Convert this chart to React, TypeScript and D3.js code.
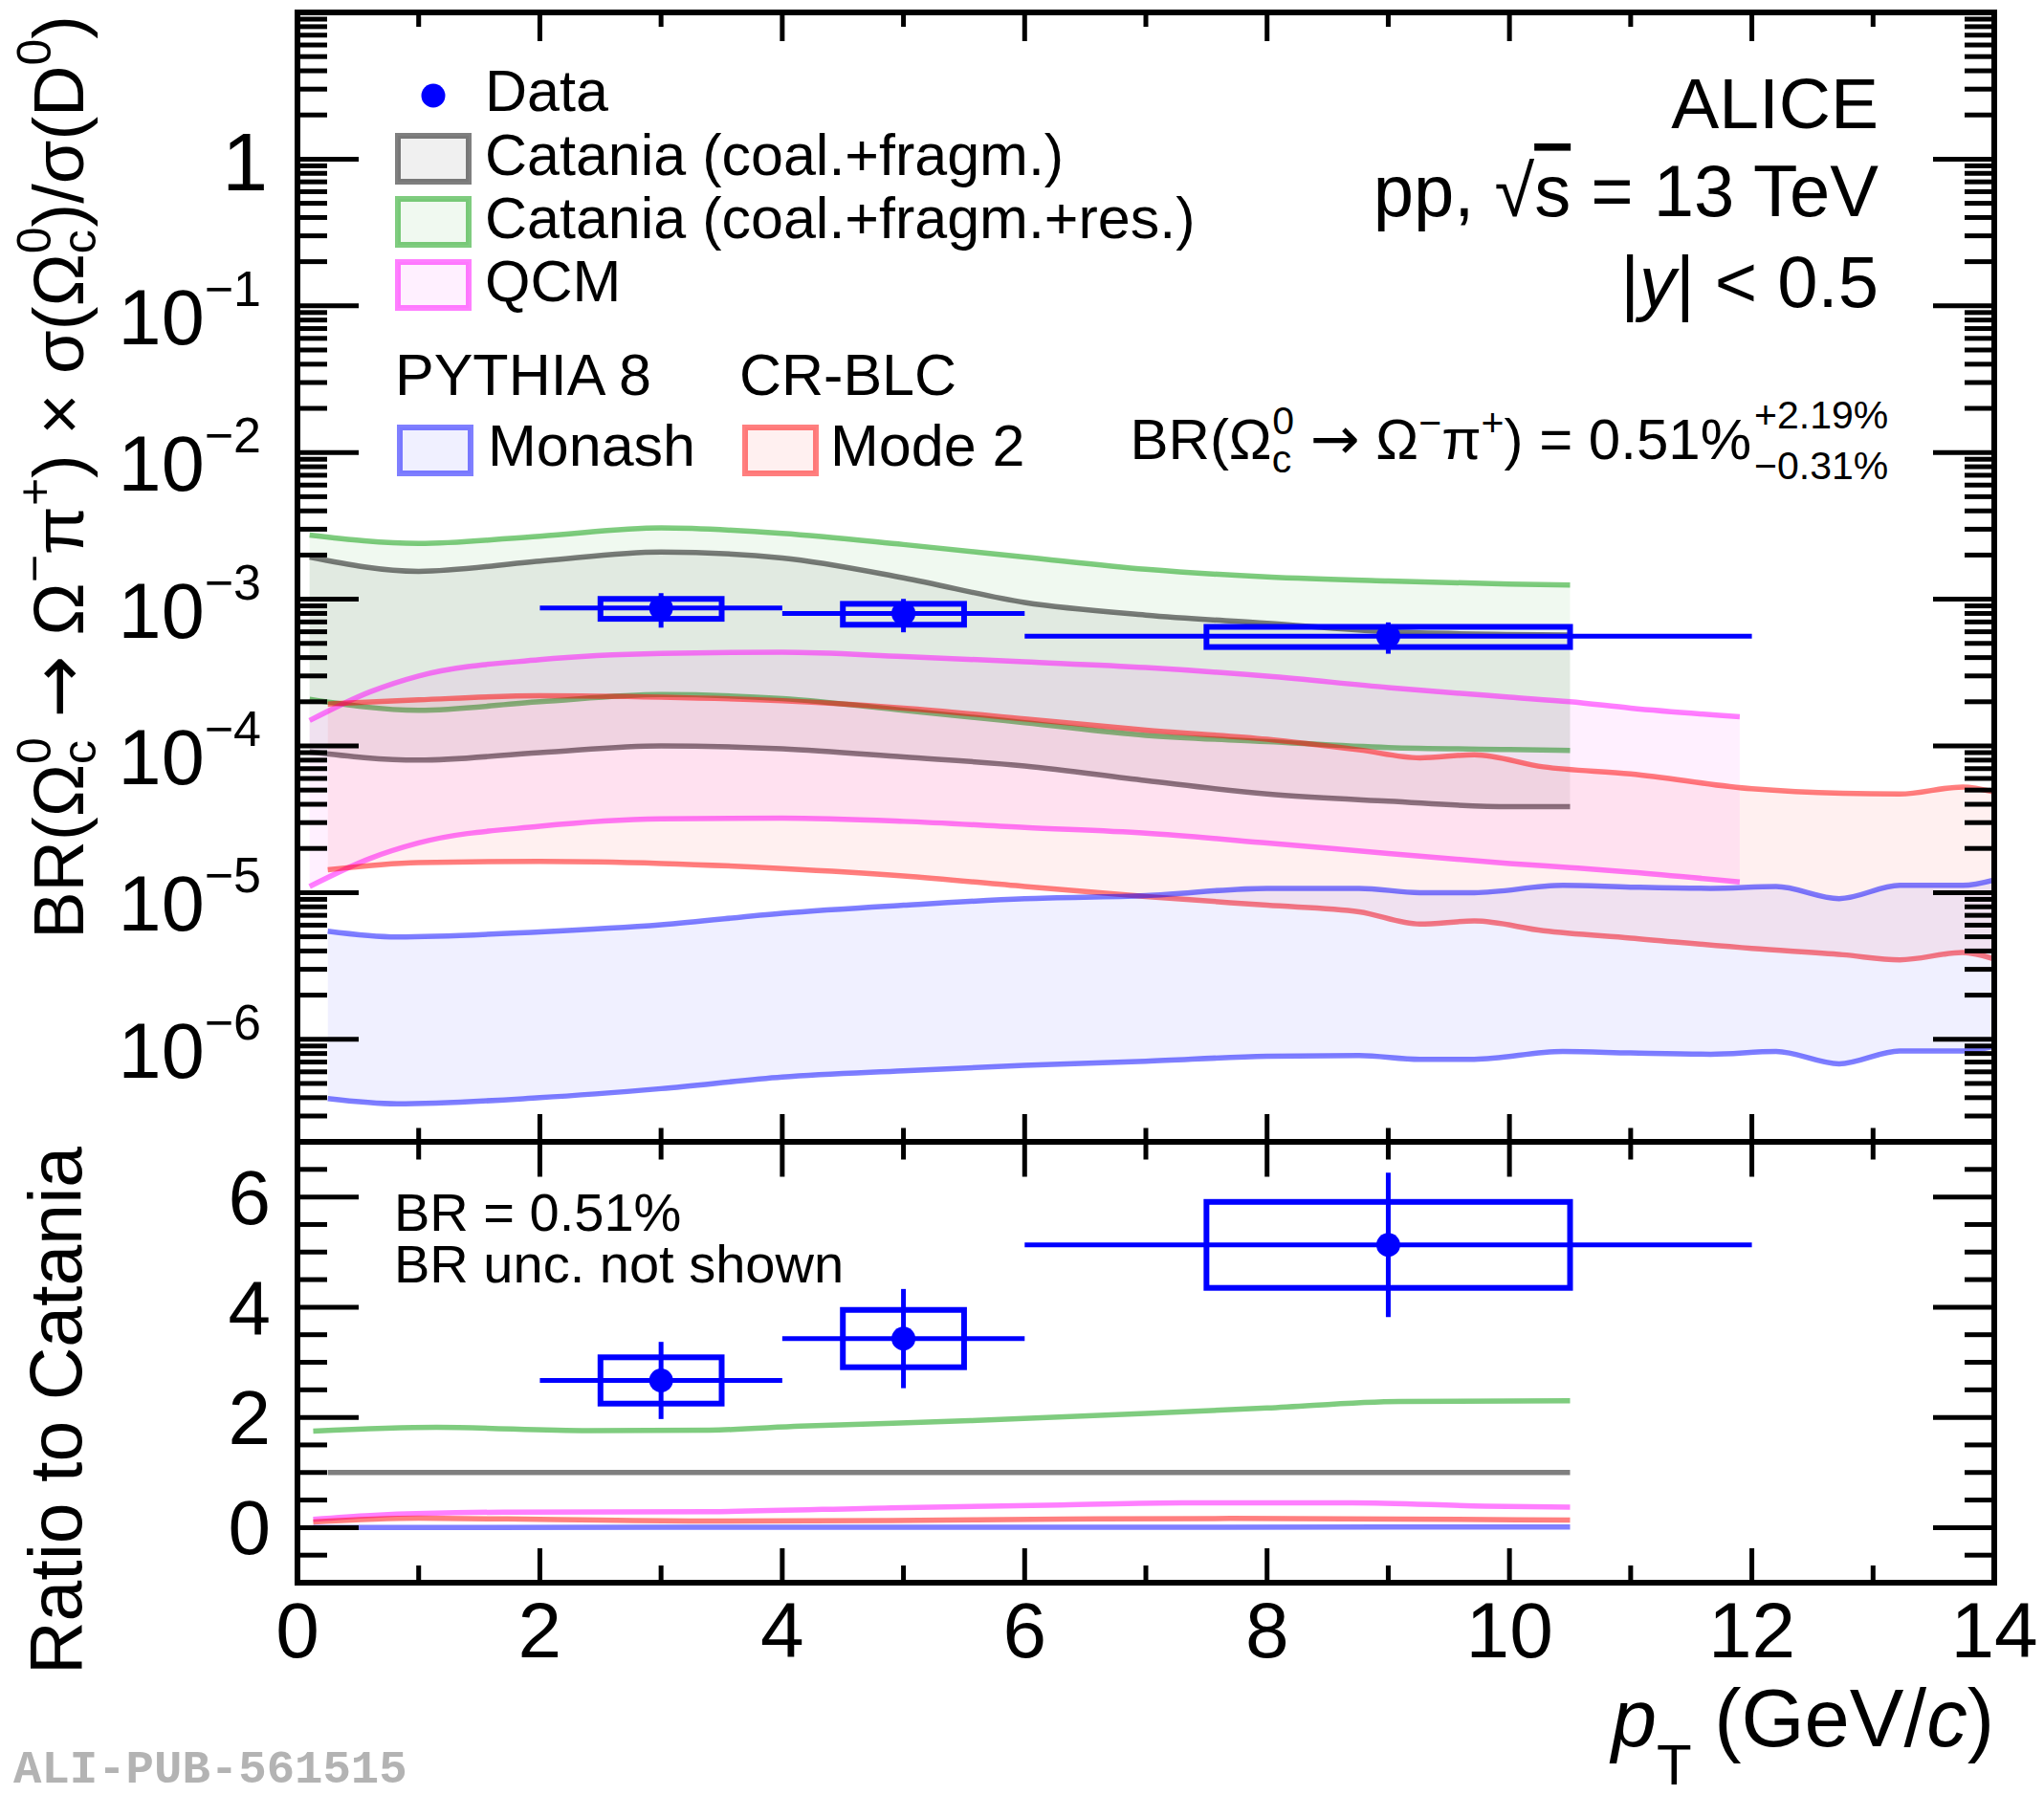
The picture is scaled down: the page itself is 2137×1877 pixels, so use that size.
import React from 'react';
import * as d3 from 'd3';

// ---- data points (Omega_c0 x BR / D0) ----
const dataPt = [3, 5, 9];
const dataBinLo = [2, 4, 6];
const dataBinHi = [4, 6, 12];
const dataBoxHalf = [0.5, 0.5, 1.5];
const dataVal = [8.7e-4, 8.0e-4, 5.6e-4];
const dataStat = [2.3e-4, 2.05e-4, 1.35e-4];
const dataSyst = [1.35e-4, 1.3e-4, 0.88e-4];

// ratio to Catania
const ratioVal = [2.67, 3.43, 5.13];
const ratioStat = [0.7, 0.9, 1.31];
const ratioSyst = [0.42, 0.52, 0.78];

// ---- model bands (upper pad) ----
const catX = [0.1, 1, 2, 3, 4, 5, 6, 7, 8, 9, 10, 10.5];
const catHi = [1.94e-3, 1.55e-3, 1.82e-3, 2.1e-3, 1.91e-3, 1.4e-3, 9.5e-4, 7.8e-4, 6.85e-4, 6.0e-4, 5.75e-4, 5.7e-4];
const catLo = [9.1e-5, 8.0e-5, 9.0e-5, 1.0e-4, 9.55e-5, 8.4e-5, 7.3e-5, 5.8e-5, 4.7e-5, 4.2e-5, 3.85e-5, 3.85e-5];
const resHi = [2.74e-3, 2.4e-3, 2.69e-3, 3.06e-3, 2.81e-3, 2.36e-3, 1.94e-3, 1.6e-3, 1.42e-3, 1.33e-3, 1.27e-3, 1.25e-3];
const resLo = [2.08e-4, 1.75e-4, 2.0e-4, 2.24e-4, 2.1e-4, 1.75e-4, 1.44e-4, 1.18e-4, 1.07e-4, 9.75e-5, 9.45e-5, 9.3e-5];

const qcmX = [0.1, 0.6, 1, 2, 3, 4, 5, 6, 7, 8, 9, 10, 10.5, 11, 11.9];
const qcmHi = [1.49e-4, 2.34e-4, 3.0e-4, 3.87e-4, 4.27e-4, 4.35e-4, 4.07e-4, 3.74e-4, 3.42e-4, 2.99e-4, 2.5e-4, 2.15e-4, 2.0e-4, 1.81e-4, 1.58e-4];
const qcmLo = [1.1e-5, 1.71e-5, 2.18e-5, 2.83e-5, 3.18e-5, 3.22e-5, 3.06e-5, 2.78e-5, 2.54e-5, 2.18e-5, 1.85e-5, 1.58e-5, 1.48e-5, 1.38e-5, 1.18e-5];

const mode2X = [0.25, 1, 2, 3, 4, 5, 6, 7, 8, 8.76, 9.26, 9.71, 10.28, 11, 12, 12.75, 13.22, 13.74, 14];
const mode2Hi = [1.93e-4, 2.06e-4, 2.2e-4, 2.15e-4, 2.03e-4, 1.81e-4, 1.53e-4, 1.28e-4, 1.11e-4, 9.4e-5, 8.3e-5, 8.7e-5, 7.2e-5, 6.45e-5, 5.1e-5, 4.75e-5, 4.7e-5, 5.25e-5, 4.85e-5];
const mode2Lo = [1.43e-5, 1.6e-5, 1.63e-5, 1.58e-5, 1.46e-5, 1.3e-5, 1.1e-5, 9.4e-6, 8.2e-6, 7.4e-6, 6.1e-6, 6.4e-6, 5.5e-6, 4.9e-6, 4.16e-6, 3.77e-6, 3.48e-6, 3.9e-6, 3.53e-6];

const monashX = [0.25, 0.82, 2, 3, 4, 5, 6, 7, 8, 8.76, 9.26, 9.71, 10.44, 11, 11.66, 12.2, 12.72, 13.22, 13.74, 14];
const monashHi = [5.46e-6, 4.99e-6, 5.4e-6, 6.03e-6, 7.23e-6, 8.2e-6, 9.1e-6, 9.55e-6, 1.07e-5, 1.07e-5, 1.0e-5, 1.0e-5, 1.12e-5, 1.09e-5, 1.07e-5, 1.1e-5, 9.1e-6, 1.12e-5, 1.12e-5, 1.22e-5];
const monashLo = [3.94e-7, 3.63e-7, 4.0e-7, 4.61e-7, 5.53e-7, 6.1e-7, 6.64e-7, 7.08e-7, 7.66e-7, 7.76e-7, 7.31e-7, 7.31e-7, 8.26e-7, 8.07e-7, 7.91e-7, 8.26e-7, 6.81e-7, 8.32e-7, 8.32e-7, 8.95e-7];

// ---- model ratios to Catania (lower pad) ----
const rResX = [0.13, 1.15, 2.4, 3.4, 4.15, 5.55, 7, 8, 9.1, 10.5];
const rRes = [1.75, 1.82, 1.76, 1.77, 1.84, 1.94, 2.07, 2.17, 2.29, 2.3];
const rCatX = [0.25, 10.5];
const rCat = [1, 1];
const rQcmX = [0.13, 0.6, 1.7, 3.4, 4.9, 6.3, 7.3, 8.7, 9.8, 10.5];
const rQcm = [0.15, 0.22, 0.28, 0.29, 0.36, 0.41, 0.45, 0.45, 0.39, 0.37];
const rMode2X = [0.13, 1, 2, 3.4, 4.9, 6.3, 7.7, 9.1, 10.5];
const rMode2 = [0.1, 0.17, 0.15, 0.12, 0.13, 0.155, 0.165, 0.155, 0.135];
const rMonashX = [0.13, 3, 6, 9, 10.5];
const rMonash = [0.003, 0.005, 0.007, 0.009, 0.01];

const xTickVals = [0, 2, 4, 6, 8, 10, 12, 14];
const ratioTickVals = [0, 2, 4, 6];
const decadeExps = [0, -1, -2, -3, -4, -5, -6];

const FONT = "'Liberation Sans', Arial, Helvetica, sans-serif";
const ARROW_FONT = "'DejaVu Sans', sans-serif";
const GREEN = '#009900';
const X0 = 311, X1 = 2085, YT = 13, YM = 1194, YB = 1655;

const x = d3.scaleLinear().domain([0, 14]).range([X0, X1]);
const yU = d3.scaleLog().domain([2e-7, 10]).range([YM, YT]);
const yL = d3.scaleLinear().domain([-1, 7]).range([YB, YM]);

const bands = [
  { xs: catX, hi: resHi, lo: resLo, color: GREEN },
  { xs: catX, hi: catHi, lo: catLo, color: '#000000' },
  { xs: qcmX, hi: qcmHi, lo: qcmLo, color: '#ff00ff' },
  { xs: mode2X, hi: mode2Hi, lo: mode2Lo, color: '#ff0000' },
  { xs: monashX, hi: monashHi, lo: monashLo, color: '#0000ff' },
];

const ratios = [
  { xs: rResX, ys: rRes, color: GREEN },
  { xs: rCatX, ys: rCat, color: '#000000' },
  { xs: rQcmX, ys: rQcm, color: '#ff00ff' },
  { xs: rMode2X, ys: rMode2, color: '#ff0000' },
  { xs: rMonashX, ys: rMonash, color: '#0000ff' },
];

function Band({ xs, hi, lo, color }: { xs: number[]; hi: number[]; lo: number[]; color: string }) {
  const idx = xs.map((_, i) => i);
  const area = d3.area<number>()
    .x(i => x(xs[i])).y0(i => yU(lo[i])).y1(i => yU(hi[i]))
    .curve(d3.curveMonotoneX);
  const lineHi = d3.line<number>().x(i => x(xs[i])).y(i => yU(hi[i])).curve(d3.curveMonotoneX);
  const lineLo = d3.line<number>().x(i => x(xs[i])).y(i => yU(lo[i])).curve(d3.curveMonotoneX);
  return (
    <g>
      <path d={area(idx) || ''} fill={color} fillOpacity={0.06} stroke="none" />
      <path d={lineHi(idx) || ''} fill="none" stroke={color} strokeOpacity={0.5} strokeWidth={5.5} />
      <path d={lineLo(idx) || ''} fill="none" stroke={color} strokeOpacity={0.5} strokeWidth={5.5} />
    </g>
  );
}

function Frame({ top, bottom, yTicks, xTopLen, xBotLen }: {
  top: number; bottom: number; yTicks: { y: number; major: boolean }[];
  xTopLen: [number, number]; xBotLen: [number, number];
}) {
  const xs = d3.range(0, 15);
  return (
    <g stroke="#000" strokeWidth={5} fill="none">
      {xs.map(t => {
        const major = t % 2 === 0;
        return (
          <g key={'xt' + t}>
            <line x1={x(t)} x2={x(t)} y1={top} y2={top + (major ? xTopLen[0] : xTopLen[1])} />
            <line x1={x(t)} x2={x(t)} y1={bottom} y2={bottom - (major ? xBotLen[0] : xBotLen[1])} />
          </g>
        );
      })}
      {yTicks.map((t, i) => {
        const len = t.major ? 64 : 31;
        return (
          <g key={'yt' + i}>
            <line x1={X0} x2={X0 + len} y1={t.y} y2={t.y} />
            <line x1={X1} x2={X1 - len} y1={t.y} y2={t.y} />
          </g>
        );
      })}
      <rect x={X0} y={top} width={X1 - X0} height={bottom - top} strokeWidth={6} />
    </g>
  );
}

function DataPoints({ y, vals, stat, syst }: {
  y: (v: number) => number; vals: number[]; stat: number[]; syst: number[];
}) {
  return (
    <g stroke="#0000ff" fill="none">
      {vals.map((v, i) => (
        <g key={i}>
          <rect x={x(dataPt[i] - dataBoxHalf[i])} y={y(v + syst[i])}
            width={x(dataPt[i] + dataBoxHalf[i]) - x(dataPt[i] - dataBoxHalf[i])}
            height={y(v - syst[i]) - y(v + syst[i])} strokeWidth={6} />
          <line x1={x(dataBinLo[i])} x2={x(dataBinHi[i])} y1={y(v)} y2={y(v)} strokeWidth={5} />
          <line x1={x(dataPt[i])} x2={x(dataPt[i])} y1={y(v - stat[i])} y2={y(v + stat[i])} strokeWidth={5} />
          <circle cx={x(dataPt[i])} cy={y(v)} r={12.5} fill="#0000ff" stroke="none" />
        </g>
      ))}
    </g>
  );
}

function LegendBox({ x0, y0, color }: { x0: number; y0: number; color: string }) {
  return (
    <rect x={x0} y={y0} width={74} height={48} fill={color} fillOpacity={0.06}
      stroke={color} strokeOpacity={0.5} strokeWidth={6} />
  );
}

export default function App() {
  const logTicks: { y: number; major: boolean }[] = [];
  for (let e = -7; e <= 1; e++) {
    for (let m = 1; m <= 9; m++) {
      const v = m * Math.pow(10, e);
      if (v >= 2e-7 && v <= 10) logTicks.push({ y: yU(v), major: m === 1 });
    }
  }
  const linTicks = d3.range(-1, 7.01, 0.5).map(v => ({ y: yL(v), major: v % 2 === 0 && v >= 0 }));

  return (
    <svg width={2137} height={1877} viewBox="0 0 2137 1877"
      style={{ position: 'absolute', left: 0, top: 0, background: '#fff' }}
      fontFamily={FONT}>
      <defs>
        <clipPath id="clipU"><rect x={X0} y={YT} width={X1 - X0} height={YM - YT} /></clipPath>
        <clipPath id="clipL"><rect x={X0} y={YM} width={X1 - X0} height={YB - YM} /></clipPath>
      </defs>
      <rect x={0} y={0} width={2137} height={1877} fill="#fff" />

      {/* upper pad */}
      <g clipPath="url(#clipU)">
        {bands.map((b, i) => <Band key={i} {...b} />)}
        <DataPoints y={yU} vals={dataVal} stat={dataStat} syst={dataSyst} />
      </g>
      <Frame top={YT} bottom={YM} yTicks={logTicks} xTopLen={[30, 15]} xBotLen={[29, 14.5]} />

      {/* lower pad */}
      <g clipPath="url(#clipL)">
        {ratios.map((r, i) => {
          const idx = r.xs.map((_, k) => k);
          const ln = d3.line<number>().x(k => x(r.xs[k])).y(k => yL(r.ys[k])).curve(d3.curveMonotoneX);
          return <path key={i} d={ln(idx) || ''} fill="none" stroke={r.color} strokeOpacity={0.5} strokeWidth={5.5} />;
        })}
        <DataPoints y={yL} vals={ratioVal} stat={ratioStat} syst={ratioSyst} />
      </g>
      <Frame top={YM} bottom={YB} yTicks={linTicks} xTopLen={[36.5, 18.5]} xBotLen={[36, 18]} />

      {/* y tick labels upper */}
      {decadeExps.map(e => (
        e === 0 ? (
          <text key={e} x={280} y={yU(1) + 33} fontSize={86} textAnchor="end">1</text>
        ) : (
          <text key={e} x={273} y={yU(Math.pow(10, e)) + 40} fontSize={81} textAnchor="end">
            10<tspan fontSize={52} dy={-40}>{'\u2212' + Math.abs(e)}</tspan>
          </text>
        )
      ))}
      {/* y tick labels lower */}
      {ratioTickVals.map(v => (
        <text key={v} x={283} y={yL(v) + 28} fontSize={80} textAnchor="end">{v}</text>
      ))}
      {/* x tick labels */}
      {xTickVals.map(v => (
        <text key={v} x={x(v)} y={1733} fontSize={82} textAnchor="middle">{v}</text>
      ))}

      {/* axis titles */}
      <text transform="translate(87,16) rotate(-90)" textAnchor="end" fontSize={74}>
        BR(Ω<tspan fontSize={50} dy={13}>c</tspan><tspan fontSize={50} dx={-25} dy={-47}>0</tspan>
        <tspan dy={34}> </tspan><tspan fontFamily={ARROW_FONT} fontSize={78}>{'\u2192'}</tspan>
        <tspan>{' Ω'}</tspan><tspan fontSize={50} dy={-34}>{'\u2212'}</tspan>
        <tspan dy={34}>π</tspan><tspan fontSize={50} dy={-34}>+</tspan>
        <tspan dy={34}>{') × σ(Ω'}</tspan><tspan fontSize={50} dy={13}>c</tspan><tspan fontSize={50} dx={-25} dy={-47}>0</tspan>
        <tspan dy={34}>{')/σ(D'}</tspan><tspan fontSize={50} dy={-34}>0</tspan><tspan dy={34}>)</tspan>
      </text>
      <text transform="translate(85,1475) rotate(-90)" textAnchor="middle" fontSize={77}>Ratio to Catania</text>
      <text x={2085} y={1826} textAnchor="end" fontSize={85}>
        <tspan fontStyle="italic">p</tspan><tspan fontSize={60} dy={40}>T</tspan>
        <tspan dy={-40}>{' (GeV/'}</tspan><tspan fontStyle="italic">c</tspan><tspan>)</tspan>
      </text>

      {/* legend */}
      <circle cx={453} cy={100} r={12.5} fill="#0000ff" />
      <text x={507} y={116} fontSize={61}>Data</text>
      <LegendBox x0={416} y0={142} color="#000000" />
      <text x={507} y={183} fontSize={61}>Catania (coal.+fragm.)</text>
      <LegendBox x0={416} y0={208} color={GREEN} />
      <text x={507} y={249} fontSize={61}>Catania (coal.+fragm.+res.)</text>
      <LegendBox x0={416} y0={274} color="#ff00ff" />
      <text x={507} y={315} fontSize={61}>QCM</text>
      <text x={413} y={413} fontSize={61}>PYTHIA 8</text>
      <text x={773} y={413} fontSize={61}>CR-BLC</text>
      <LegendBox x0={418} y0={447} color="#0000ff" />
      <text x={510} y={487} fontSize={61}>Monash</text>
      <LegendBox x0={779} y0={447} color="#ff0000" />
      <text x={868} y={487} fontSize={61}>Mode 2</text>

      {/* header */}
      <text x={1964} y={134} fontSize={75} textAnchor="end">ALICE</text>
      <text x={1964} y={226} fontSize={76} textAnchor="end">
        {'pp,  √'}<tspan style={{ textDecoration: 'overline' }}>s</tspan>{' = 13 TeV'}
      </text>
      <text x={1964} y={321} fontSize={76} textAnchor="end">
        |<tspan fontStyle="italic">y</tspan>| &lt; 0.5
      </text>
      <text x={1831} y={480} fontSize={60} textAnchor="end">
        BR(Ω<tspan fontSize={41} dy={14}>c</tspan><tspan fontSize={41} dx={-20} dy={-40}>0</tspan>
        <tspan dy={26}> </tspan><tspan fontFamily={ARROW_FONT} fontSize={62}>{'\u2192'}</tspan>
        <tspan>{' Ω'}</tspan><tspan fontSize={41} dy={-24}>{'\u2212'}</tspan>
        <tspan dy={24}>π</tspan><tspan fontSize={41} dy={-24}>+</tspan>
        <tspan dy={24}>{') = 0.51%'}</tspan>
      </text>
      <text x={1834} y={448} fontSize={41}>+2.19%</text>
      <text x={1834} y={501} fontSize={41}>{'\u22120.31%'}</text>

      {/* lower pad text */}
      <text x={412} y={1287} fontSize={56}>BR = 0.51%</text>
      <text x={412} y={1341} fontSize={56}>BR unc. not shown</text>

      <text x={14} y={1864} fontSize={49} fontWeight="bold" fill="#b3b3b3"
        fontFamily="'Liberation Mono', 'DejaVu Sans Mono', monospace">ALI-PUB-561515</text>
    </svg>
  );
}
